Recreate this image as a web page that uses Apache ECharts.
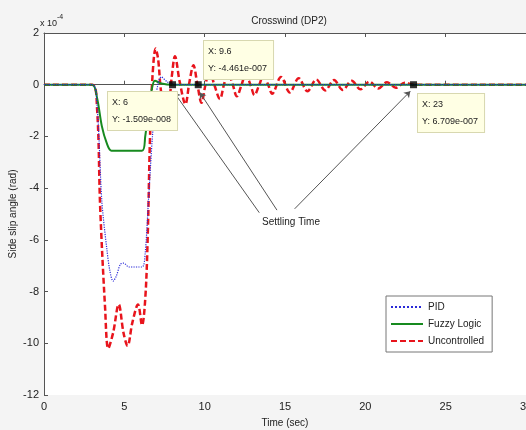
<!DOCTYPE html>
<html>
<head>
<meta charset="utf-8">
<script src="https://cdn.jsdelivr.net/npm/echarts@6/dist/echarts.min.js"></script>
<style>
  html, body { margin: 0; padding: 0; background: #f4f4f4; }
  #main { width: 526px; height: 430px; }
</style>
</head>
<body>
<div id="main"></div>
<script>
// values are in units of 1e-4 rad (axis shows "x 10^-4")
var tPid = [0, 3.0, 3.3, 3.6, 3.9, 4.1, 4.3, 4.5, 4.75, 4.95, 5.3, 6.1, 6.3, 6.5, 6.75, 7.0, 7.3, 7.7, 8.2, 30];
var yPid = [0, 0, -0.8, -4.5, -6.3, -7.2, -7.6, -7.4, -6.95, -6.9, -7.05, -7.05, -6.5, -4.5, -2.0, -0.3, 0.3, 0.1, 0, 0];

var tFuzzy = [0, 3.0, 3.3, 3.6, 3.9, 4.2, 6.1, 6.3, 6.5, 6.7, 6.9, 7.3, 8, 30];
var yFuzzy = [0, 0, -0.5, -1.6, -2.25, -2.55, -2.55, -2.0, -1.0, -0.2, 0.15, 0.05, 0, 0];

var tUnc = [0, 3.0, 3.3, 3.5, 3.8, 4.0, 4.3, 4.65, 4.95, 5.2, 5.5, 5.85, 6.1, 6.3, 6.45, 6.6, 6.75, 6.95,
            7.1, 7.35, 7.7, 7.95, 8.15, 8.45, 8.8, 9.05, 9.3, 9.55, 9.8, 10.05, 10.3, 10.6, 10.95, 11.2,
            11.45, 11.75, 12.0, 12.3, 12.55, 12.85, 13.1, 13.4, 13.65, 13.95, 14.2, 14.75, 15.3, 15.85,
            16.4, 16.95, 17.5, 18.05, 18.6, 19.15, 19.7, 20.25, 20.8, 21.35, 21.9, 22.45, 23.0, 30];
var yUnc = [0, 0, -0.9, -4.8, -8.6, -10.2, -9.6, -8.5, -9.6, -10.1, -9.2, -8.5, -9.3, -8.3, -6.0, -2.0, 0.3, 1.4,
            1.0, -0.5, -0.9, 0.3, 1.1, 0.1, -0.75, 0.1, 0.75, 0, -0.7, 0, 0.55, 0, -0.55, 0,
            0.45, 0, -0.45, 0, 0.4, 0, -0.4, 0, 0.35, 0, -0.35, 0.3, -0.3, 0.25,
            -0.25, 0.2, -0.22, 0.18, -0.2, 0.15, -0.18, 0.12, -0.15, 0.1, -0.12, 0.08, 0, 0];

var tipX = [8.0, 9.6, 23];
var tipY = [0, 0, 0];

var xTicks = [0, 5, 10, 15, 20, 25, 30];
var yTicks = [2, 0, -2, -4, -6, -8, -10, -12];

function pairs(t, y) {
    var out = [];
    for (var i = 0; i < t.length; i++) out.push([t[i], y[i]]);
    return out;
}

var font = 'Liberation Sans';
var chart = echarts.init(document.getElementById('main'));

var option = {
    backgroundColor: '#f4f4f4',
    animation: false,
    textStyle: { fontFamily: font },
    title: {
        text: 'Crosswind (DP2)',
        left: 284, top: 11, textAlign: 'center',
        textStyle: { fontSize: 10, fontWeight: 'normal', color: '#222', fontFamily: font }
    },
    grid: {
        left: 44, top: 33, right: 0, bottom: 35,
        outerBoundsMode: 'none', containLabel: false,
        show: true, backgroundColor: '#fff', borderWidth: 0
    },
    legend: {
        orient: 'vertical',
        left: 386, top: 296,
        itemWidth: 32, itemHeight: 10, itemGap: 7,
        padding: [6, 8, 6, 4],
        backgroundColor: '#fff',
        borderColor: '#777', borderWidth: 1,
        itemStyle: { opacity: 0 },
        textStyle: { fontSize: 10, color: '#222', fontFamily: font },
        data: ['PID', 'Fuzzy Logic', 'Uncontrolled']
    },
    xAxis: [{
        type: 'value', min: xTicks[0], max: xTicks[xTicks.length - 1], interval: 5,
        name: 'Time (sec)', nameLocation: 'middle', nameGap: 23,
        nameTextStyle: { fontSize: 10, color: '#222' },
        axisLine: { lineStyle: { color: '#555' } },
        axisTick: { inside: true, length: 4, lineStyle: { color: '#555' } },
        axisLabel: { fontSize: 11, color: '#222', margin: 6 },
        splitLine: { show: false }
    }, {
        type: 'value', position: 'top', min: 0, max: 30, interval: 5,
        axisLine: { lineStyle: { color: '#555' } },
        axisTick: { inside: true, length: 4, lineStyle: { color: '#555' } },
        axisLabel: { show: false },
        splitLine: { show: false }
    }],
    yAxis: {
        type: 'value', min: yTicks[yTicks.length - 1], max: yTicks[0], interval: 2,
        name: 'Side slip angle (rad)', nameLocation: 'middle', nameGap: 26,
        nameMoveOverlap: false,
        nameTextStyle: { fontSize: 10, color: '#222' },
        axisLine: { lineStyle: { color: '#555' } },
        axisTick: { inside: true, length: 4, lineStyle: { color: '#555' } },
        axisLabel: { fontSize: 11, color: '#222', margin: 5 },
        splitLine: { show: false }
    },
    series: [{
        name: 'Uncontrolled', type: 'line', z: 3,
        data: pairs(tUnc, yUnc),
        smooth: 0.35, symbol: 'none',
        itemStyle: { color: '#e8141c' },
        lineStyle: { color: '#e8141c', width: 2.5, type: [6, 3] },
        markLine: {
            silent: true, symbol: ['none', 'arrow'], symbolSize: 6,
            label: { show: false },
            lineStyle: { color: '#555', width: 1, type: 'solid' },
            data: [
                [{ coord: [13.4, -4.95] }, { coord: [8.1, -0.3] }],
                [{ coord: [14.5, -4.85] }, { coord: [9.7, -0.3] }],
                [{ coord: [15.6, -4.8] }, { coord: [22.8, -0.25] }]
            ]
        }
    }, {
        name: 'Fuzzy Logic', type: 'line', z: 4,
        data: pairs(tFuzzy, yFuzzy),
        smooth: 0.3, symbol: 'none',
        itemStyle: { color: '#178a1f' },
        lineStyle: { color: '#178a1f', width: 2 }
    }, {
        name: 'PID', type: 'line', z: 5,
        data: pairs(tPid, yPid),
        smooth: 0.3, symbol: 'none',
        itemStyle: { color: '#2a2ad8' },
        lineStyle: { color: '#2a2ad8', width: 1.2, type: 'dotted' }
    }, {
        name: 'tips', type: 'scatter', z: 6,
        data: pairs(tipX, tipY),
        symbol: 'rect', symbolSize: 7,
        itemStyle: { color: '#000' }
    }],
    graphic: [{
        type: 'text', left: 40, top: 14,
        style: {
            text: '{a|x 10}{b|-4}',
            rich: {
                a: { fontSize: 9, fontFamily: font, fill: '#222', padding: [6, 0, 0, 0] },
                b: { fontSize: 7, fontFamily: font, fill: '#222', padding: [0, 0, 6, 0] }
            }
        }
    }, {
        type: 'text', left: 107, top: 91, z: 10,
        style: {
            text: 'X: 6\nY: -1.509e-008',
            fontSize: 9, fontFamily: font, fill: '#222', lineHeight: 17,
            backgroundColor: '#ffffe4', borderColor: '#d8d8b0', borderWidth: 1,
            padding: [2, 6, 2, 4]
        }
    }, {
        type: 'text', left: 203, top: 40, z: 10,
        style: {
            text: 'X: 9.6\nY: -4.461e-007',
            fontSize: 9, fontFamily: font, fill: '#222', lineHeight: 17,
            backgroundColor: '#ffffe4', borderColor: '#d8d8b0', borderWidth: 1,
            padding: [2, 6, 2, 4]
        }
    }, {
        type: 'text', left: 417, top: 93, z: 10,
        style: {
            text: 'X: 23\nY: 6.709e-007',
            fontSize: 9, fontFamily: font, fill: '#222', lineHeight: 17,
            backgroundColor: '#ffffe4', borderColor: '#d8d8b0', borderWidth: 1,
            padding: [2, 6, 2, 4]
        }
    }, {
        type: 'text', left: 262, top: 217, z: 10,
        style: { text: 'Settling Time', fontSize: 10, fontFamily: font, fill: '#222' }
    }]
};

chart.setOption(option);
</script>
</body>
</html>
